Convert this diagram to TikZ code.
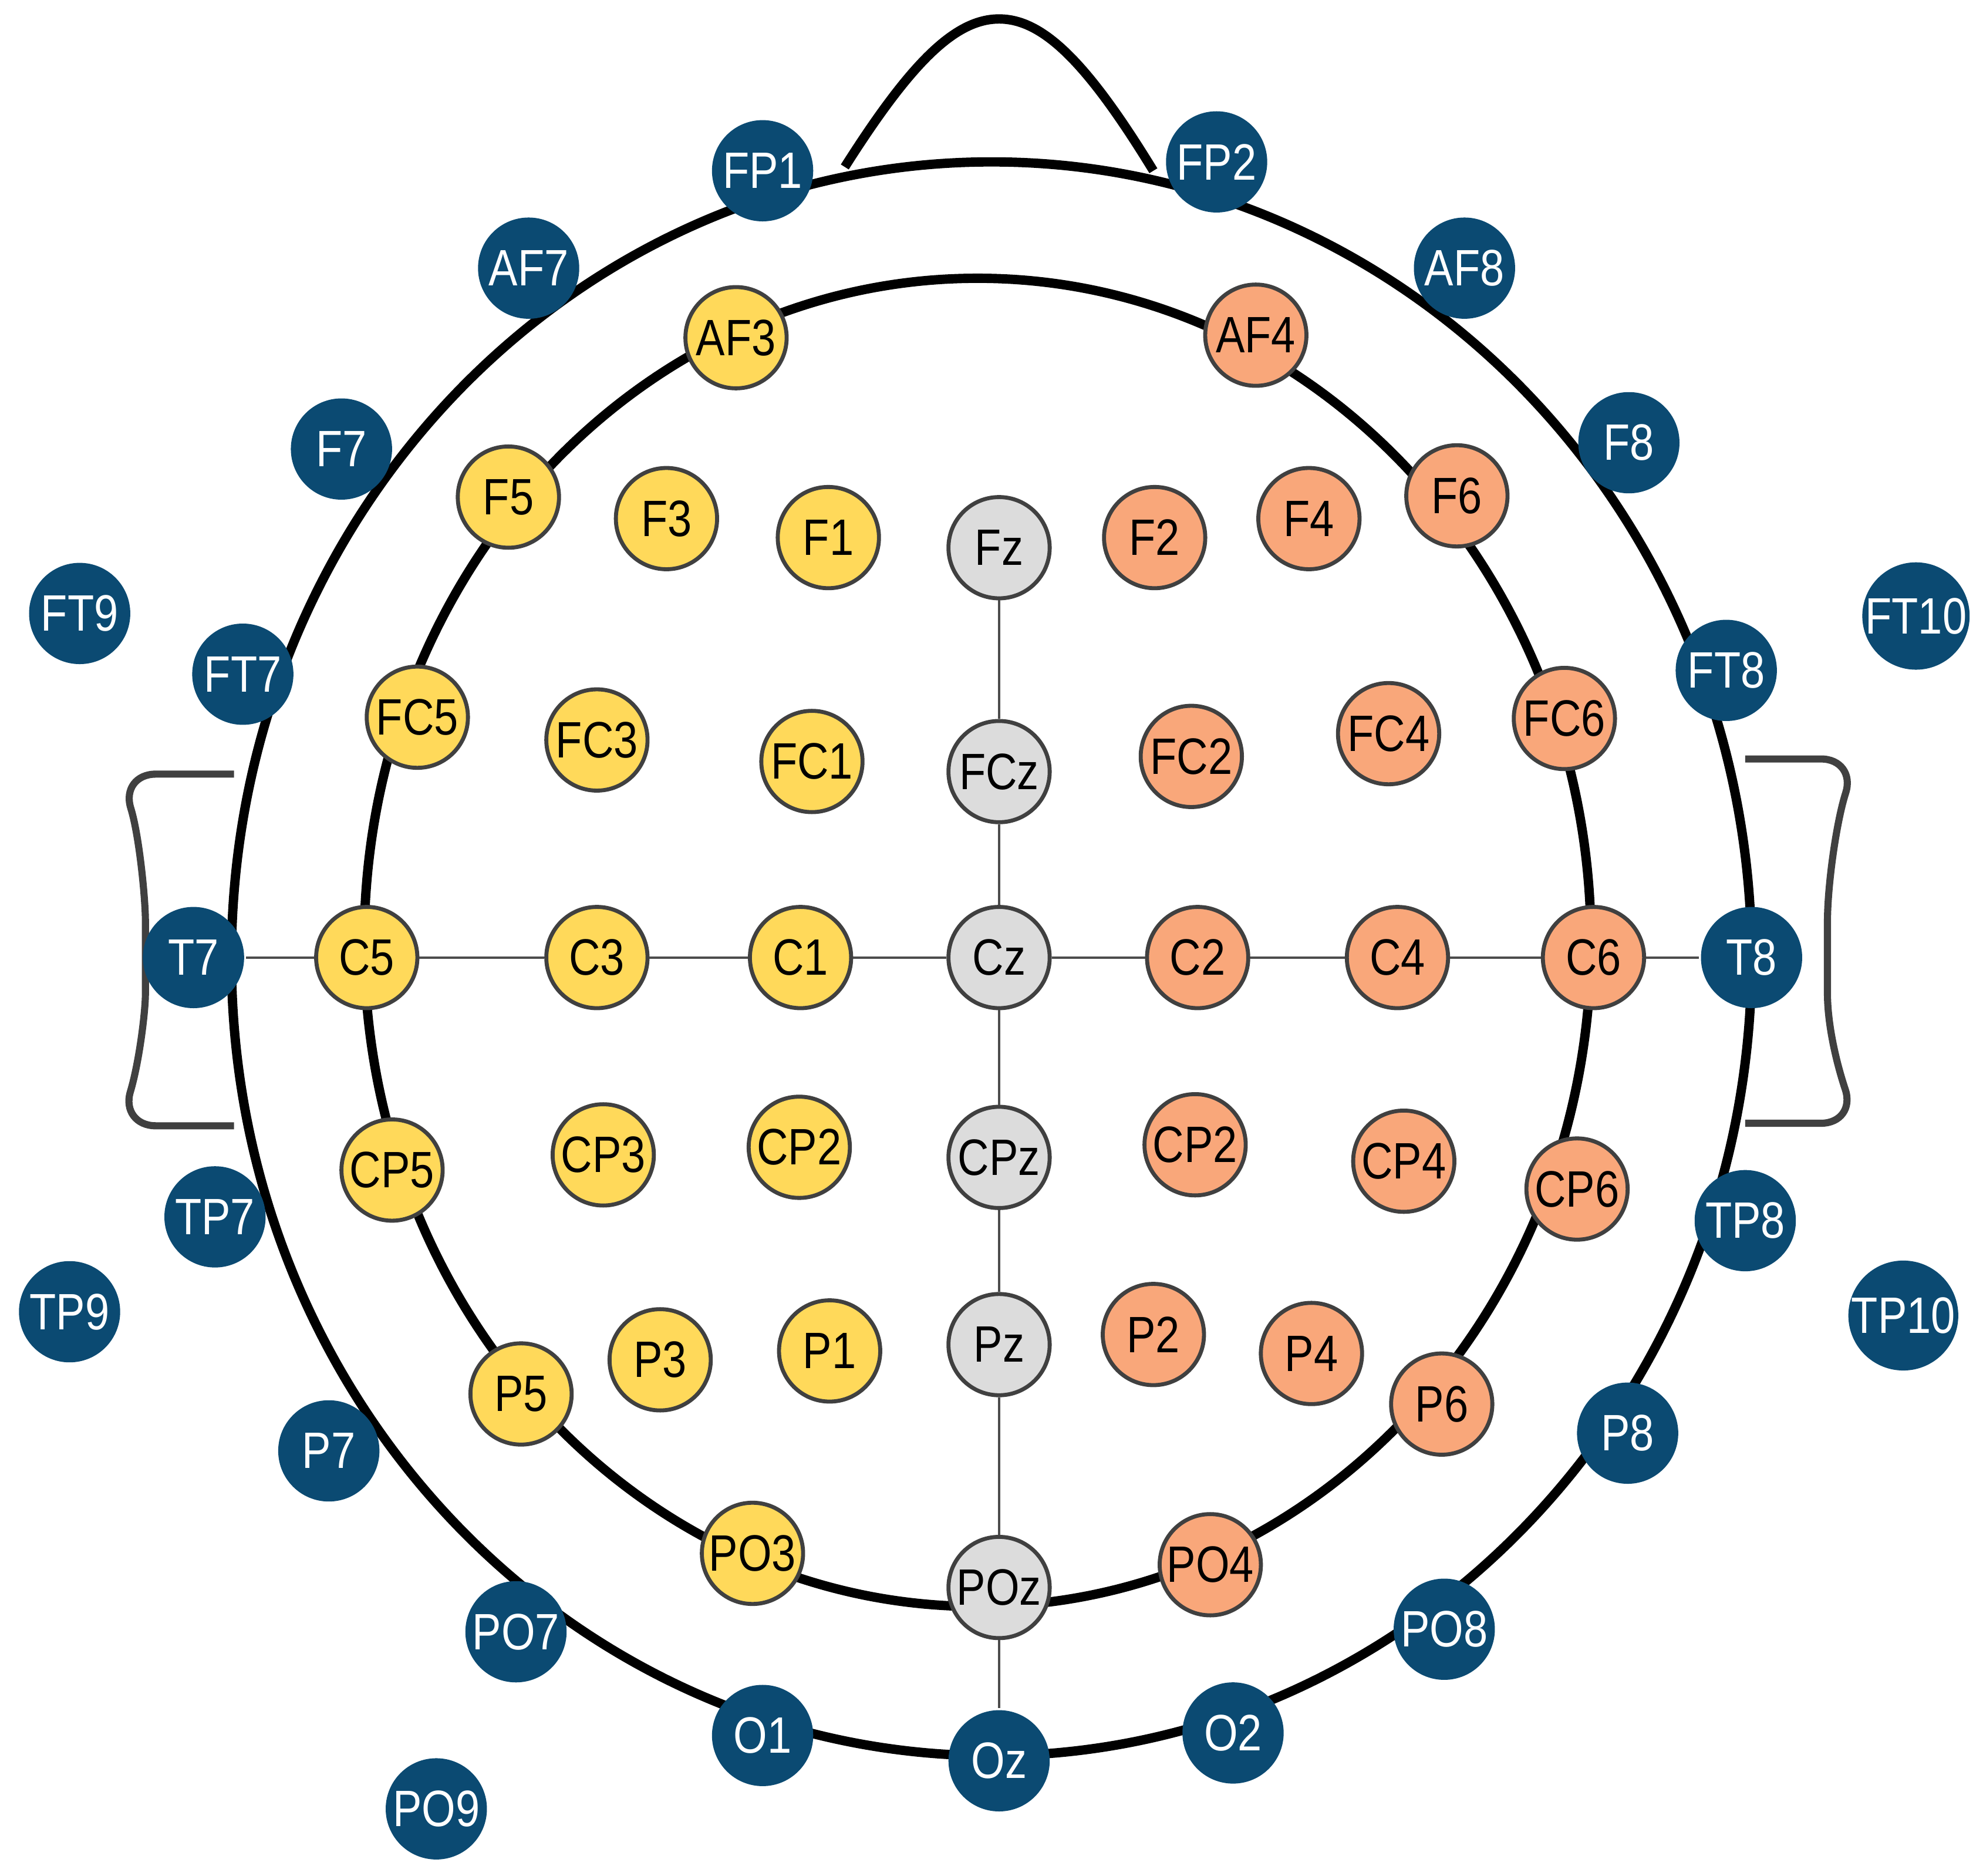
\documentclass[tikz,border=0pt]{standalone}
\usepackage{fontspec}
\setmainfont[FakeStretch=0.85]{Liberation Sans}
\begin{document}
\begin{tikzpicture}[x=0.01cm,y=-0.01cm,
  el/.style={circle,minimum size=0.8cm,inner sep=0pt,font=\fontsize{11.5}{12}\selectfont,line width=0.9pt,draw=black!75},
  bl/.style={el,fill=blue0,draw=none,text=white},
  ye/.style={el,fill=yel0},
  orr/.style={el,fill=ora0},
  gr/.style={el,fill=gry0},
  head/.style={line width=2.1pt,black},
  ear/.style={line width=1.6pt,black!75,rounded corners=8pt},
  grid/.style={line width=0.5pt,black!70}]
\definecolor{blue0}{HTML}{0B4A72}
\definecolor{yel0}{HTML}{FFD95A}
\definecolor{ora0}{HTML}{F9A77A}
\definecolor{gry0}{HTML}{DCDCDC}
\useasboundingbox (0,0) rectangle (1568,1483);
\fill[white] (0,0) rectangle (1568,1483);
% head
\draw[head] (784,758) ellipse [x radius=601,y radius=630];
\draw[head] (773,745) ellipse [x radius=485,y radius=525];
\draw[head] (668,132) .. controls (720,50) and (755,15) .. (790,15) .. controls (825,15) and (860,50) .. (912,135);
\draw[ear] (185,612) -- (95,612) .. controls (110,660) and (115,710) .. (115,757) .. controls (115,800) and (110,840) .. (95,890) -- (185,890);
\draw[ear] (1380,600) -- (1468,600) .. controls (1452,650) and (1445,700) .. (1445,757) .. controls (1445,810) and (1452,840) .. (1468,888) -- (1380,888);
% nodes
\foreach \n/\x/\y in {FP1/603/135,FP2/962/128,AF7/418/212,AF8/1158/212,F7/270/355,F8/1288/350,FT9/63/485,FT10/1515/487,FT7/192/533,FT8/1365/530,T7/153/757,T8/1385/757,TP7/170/962,TP8/1380/965,TP9/55/1037,TP10/1505/1040,P7/260/1147,P8/1287/1133,PO7/408/1290,PO8/1142/1288,O1/603/1372,O2/975/1370,Oz/790/1392,PO9/345/1430}
  \node[bl] (\n) at (\x,\y) {\n};
\foreach \n/\x/\y in {AF3/582/267,F5/402/393,F3/527/410,F1/655/425,FC5/330/567,FC3/472/585,FC1/642/602,C5/290/757,C3/472/757,C1/633/757,CP5/310/925,CP3/477/913,CP2/632/907,P5/412/1102,P3/522/1075,P1/656/1068,PO3/595/1228}
  \node[ye] (\n) at (\x,\y) {\n};
\foreach \n/\x/\y in {Fz/790/433,FCz/790/610,Cz/790/757,CPz/790/915,Pz/790/1063,POz/790/1255}
  \node[gr] (\n) at (\x,\y) {\n};
\foreach \n/\l/\x/\y in {AF4/AF4/993/265,F6/F6/1152/392,F4/F4/1035/410,F2/F2/913/425,FC6/FC6/1237/568,FC4/FC4/1098/580,FC2/FC2/942/598,C2/C2/947/757,C4/C4/1105/757,C6/C6/1260/757,CP6/CP6/1247/940,CP4/CP4/1110/918,CP2r/CP2/945/905,P6/P6/1140/1110,P4/P4/1037/1070,P2/P2/912/1055,PO4/PO4/957/1237}
  \node[orr] (\n) at (\x,\y) {\l};
% grid lines
\draw[grid] (Fz) -- (FCz) (FCz) -- (Cz) (Cz) -- (CPz) (CPz) -- (Pz) (Pz) -- (POz) (POz) -- (Oz);
\draw[grid] (T7) -- (C5) (C5) -- (C3) (C3) -- (C1) (C1) -- (Cz) (Cz) -- (C2) (C2) -- (C4) (C4) -- (C6) (C6) -- (T8);
\end{tikzpicture}
\end{document}
